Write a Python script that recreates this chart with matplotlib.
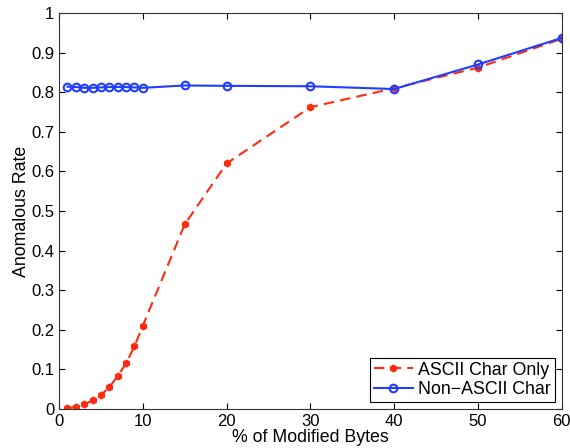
import matplotlib
matplotlib.use("Agg")
import matplotlib.pyplot as plt

plt.rcParams["font.family"] = ["Liberation Sans", "DejaVu Sans"]

# 修改字节比例 (%)
pct = [1, 2, 3, 4, 5, 6, 7, 8, 9, 10, 15, 20, 30, 40, 50, 60]
ascii_rate = [0.002, 0.005, 0.012, 0.022, 0.035, 0.055, 0.083, 0.115, 0.158, 0.21,
              0.466, 0.62, 0.762, 0.81, 0.862, 0.935]
non_ascii_rate = [0.814, 0.813, 0.811, 0.811, 0.812, 0.813, 0.813, 0.813, 0.812, 0.811,
                  0.817, 0.816, 0.815, 0.808, 0.870, 0.937]

fig = plt.figure(figsize=(5.7, 4.48), dpi=100)
ax = fig.add_axes([0.1035, 0.087, 0.882, 0.884])

ax.plot(pct, ascii_rate, color="#ff2a10", linewidth=1.5, dashes=(5, 3),
        marker="h", markersize=5, markeredgewidth=0.8, label="ASCII Char Only")
ax.plot(pct, non_ascii_rate, "-", color="#1f3dff", linewidth=1.5, marker="o",
        markersize=5.5, markerfacecolor="none", markeredgewidth=1.5,
        label="Non\u2212ASCII Char")

ax.set_xlim(0, 60)
ax.set_ylim(0, 1)
ax.set_xticks(range(0, 61, 10))
ax.set_yticks([i / 10 for i in range(11)])
ax.set_yticklabels(["0", "0.1", "0.2", "0.3", "0.4", "0.5", "0.6", "0.7", "0.8", "0.9", "1"])
ax.tick_params(direction="in", top=True, right=True, labelsize=12, length=4, width=0.8)
for s in ax.spines.values():
    s.set_linewidth(0.8)
    s.set_color("#333333")

ax.set_xlabel("% of Modified Bytes", fontsize=12.8, labelpad=0)
ax.set_ylabel("Anomalous Rate", fontsize=12.8, labelpad=1)

leg = ax.legend(loc="lower right", fontsize=12.8, fancybox=False, framealpha=1,
                edgecolor="black", borderaxespad=0.4, handlelength=2.2,
                borderpad=0.2, labelspacing=0.15, handletextpad=0.3)
leg.get_frame().set_linewidth(0.8)

fig.savefig("out.png", dpi=100)
